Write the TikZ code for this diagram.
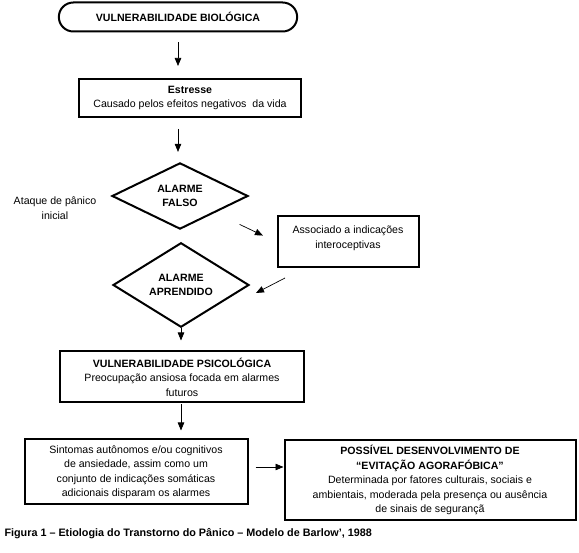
\documentclass[tikz,border=0pt]{standalone}
\usepackage{fontspec}
\setmainfont{Liberation Sans}
\usetikzlibrary{arrows.meta, shapes.geometric, shapes.misc}

\begin{document}
\begin{tikzpicture}[x=1pt, y=-1pt,
    every node/.style={font=\fontsize{10.6}{14.5}\selectfont},
    caixa/.style={draw, line width=2pt, align=center, inner sep=2pt},
    losango/.style={draw, diamond, line width=2pt, align=center, inner sep=0pt, minimum width=136pt, minimum height=66pt, font=\fontsize{10.6}{13.5}\selectfont\bfseries},
    seta/.style={-{Triangle[length=8pt, width=6.5pt]}, line width=0.7pt}]
    \useasboundingbox (0,0) rectangle (579,553);
    \node[draw, rounded rectangle, line width=2pt, minimum width=245pt, minimum height=29pt, font=\fontsize{10.6}{12}\selectfont\bfseries] (bio) at (178,17) {VULNERABILIDADE BIOLÓGICA};
    \node[caixa, minimum width=222pt, minimum height=38pt] (estresse) at (190,98) {{\bfseries Estresse}\\Causado pelos efeitos negativos\ \ da vida};
    \node[losango] (falso) at (180,196) {ALARME\\FALSO};
    \node[align=center] (ataque) at (55,208) {Ataque de pânico\\inicial};
    \node[caixa, minimum width=141pt, minimum height=51pt] (assoc) at (348,242) {Associado a indicações\\interoceptivas\\[-4.5pt]};
    \node[losango] (aprendido) at (181,285) {ALARME\\APRENDIDO};
    \node[caixa, minimum width=244pt, minimum height=51pt] (psico) at (182,377) {{\bfseries VULNERABILIDADE PSICOLÓGICA}\\Preocupação ansiosa focada em alarmes\\futuros};
    \node[caixa, minimum width=223pt, minimum height=65pt] (sintomas) at (136,472) {Sintomas autônomos e/ou cognitivos\\de ansiedade, assim como um\\conjunto de indicações somáticas\\adicionais disparam os alarmes};
    \node[caixa, minimum width=291pt, minimum height=80pt] (evitacao) at (430,480) {{\bfseries POSSÍVEL DESENVOLVIMENTO DE}\\{\bfseries “EVITAÇÃO AGORAFÓBICA”}\\Determinada por fatores culturais, sociais e\\ambientais, moderada pela presença ou ausência\\de sinais de segurançã};
    \node[anchor=west, font=\fontsize{10.8}{12}\selectfont\bfseries] (legenda) at (1,534) {Figura 1 – Etiologia do Transtorno do Pânico – Modelo de Barlow', 1988};
    \coordinate (c1) at (285,278);
    \coordinate (c2) at (256,293);
    \draw[seta, shorten <=10pt, shorten >=12pt] (bio.south) -- (bio.south |- estresse.north);
    \draw[seta, shorten <=11pt, shorten >=10pt] (estresse.south -| bio) -- (bio |- falso.north);
    \draw[seta, shorten <=66pt, shorten >=15pt] (falso.center) -- (assoc.west);
    \draw[seta] (c1) -- (c2);
    \draw[seta, shorten >=10pt] (aprendido) -- (psico.north -| aprendido);
    \draw[seta, shorten <=1pt, shorten >=8pt] (psico.south -| aprendido) -- (aprendido |- sintomas.north);
    \draw[seta, shorten <=7pt] ([yshift=5pt]sintomas.east) -- ([yshift=5pt]sintomas.east -| evitacao.west);
\end{tikzpicture}
\end{document}
